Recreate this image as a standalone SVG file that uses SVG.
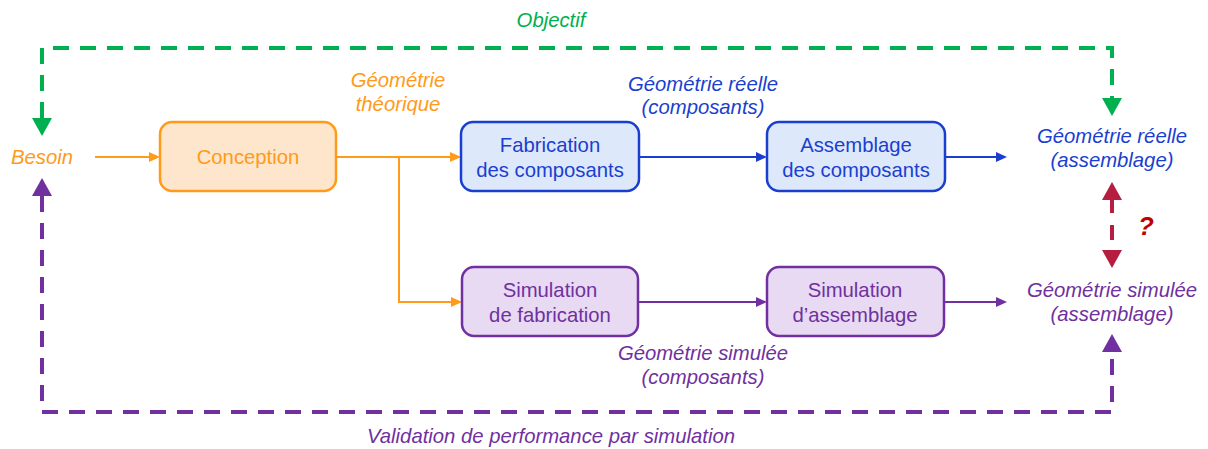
<svg xmlns="http://www.w3.org/2000/svg" width="1208" height="449" viewBox="0 0 1208 449">
<style>
text{font-family:"Liberation Sans",Arial,sans-serif;font-size:20.3px;text-anchor:middle}
.it{font-style:italic}
.or{fill:#FF9A1A}
.bl{fill:#1A3FD0}
.pu{fill:#7030A0}
.gr{fill:#00B050}
.box{stroke-width:2.5}
.c-or{fill:#FDE6CB;stroke:#FF9A1A}
.c-bl{fill:#DEE8FB;stroke:#1A3FD0}
.c-pu{fill:#E8DAF3;stroke:#7030A0}
.ln{fill:none;stroke-width:2}
.dash{fill:none;stroke-width:4;stroke-dasharray:16 11}
</style>
<defs>
<marker id="aOr" markerUnits="userSpaceOnUse" markerWidth="11" markerHeight="10" refX="0" refY="5" orient="auto"><path d="M0,0 L11,5 L0,10 z" fill="#FF9A1A"/></marker>
<marker id="aBl" markerUnits="userSpaceOnUse" markerWidth="11" markerHeight="10" refX="0" refY="5" orient="auto"><path d="M0,0 L11,5 L0,10 z" fill="#1A3FD0"/></marker>
<marker id="aPu" markerUnits="userSpaceOnUse" markerWidth="11" markerHeight="10" refX="0" refY="5" orient="auto"><path d="M0,0 L11,5 L0,10 z" fill="#7030A0"/></marker>
<marker id="bGr" markerUnits="userSpaceOnUse" markerWidth="18" markerHeight="20" refX="0" refY="10" orient="auto-start-reverse"><path d="M0,0 L18,10 L0,20 z" fill="#00B050"/></marker>
<marker id="bPu" markerUnits="userSpaceOnUse" markerWidth="18" markerHeight="20" refX="0" refY="10" orient="auto-start-reverse"><path d="M0,0 L18,10 L0,20 z" fill="#7030A0"/></marker>
<marker id="bRd" markerUnits="userSpaceOnUse" markerWidth="18" markerHeight="20" refX="0" refY="10" orient="auto-start-reverse"><path d="M0,0 L18,10 L0,20 z" fill="#B51E40"/></marker>
</defs>

<g id="connectors">
<path class="dash" stroke="#00B050" d="M42,118 V48 H1112 V98" marker-start="url(#bGr)" marker-end="url(#bGr)"/>
<path class="dash" stroke="#7030A0" d="M42,196 V412 H1112 V352" marker-start="url(#bPu)" marker-end="url(#bPu)"/>
<path fill="none" stroke="#B51E40" stroke-width="4" stroke-dasharray="13 12 15 10" d="M1112,200 V250" marker-start="url(#bRd)" marker-end="url(#bRd)"/>
<path class="ln" stroke="#FF9A1A" d="M95,157 H149" marker-end="url(#aOr)"/>
<path class="ln" stroke="#FF9A1A" d="M336,157 H450" marker-end="url(#aOr)"/>
<path class="ln" stroke="#FF9A1A" d="M399,157 V302 H451" marker-end="url(#aOr)"/>
<path class="ln" stroke="#1A3FD0" d="M639,157 H756" marker-end="url(#aBl)"/>
<path class="ln" stroke="#1A3FD0" d="M945,157 H996" marker-end="url(#aBl)"/>
<path class="ln" stroke="#7030A0" d="M638,302 H756" marker-end="url(#aPu)"/>
<path class="ln" stroke="#7030A0" d="M944,302 H996" marker-end="url(#aPu)"/>
</g>

<g id="labels">
<text class="it gr" x="551" y="27">Objectif</text>
<text class="it or" x="42" y="164">Besoin</text>
<text class="it or" x="398" y="87">Géométrie</text>
<text class="it or" x="398" y="111">théorique</text>
<text class="it bl" x="703" y="91">Géométrie réelle</text>
<text class="it bl" x="703" y="114">(composants)</text>
<text class="it bl" x="1112" y="143">Géométrie réelle</text>
<text class="it bl" x="1112" y="167">(assemblage)</text>
<text class="it" x="1146" y="235" style="fill:#C00000;font-weight:bold;font-size:26px">?</text>
<text class="it pu" x="1112" y="297">Géométrie simulée</text>
<text class="it pu" x="1112" y="321">(assemblage)</text>
<text class="it pu" x="703" y="360">Géométrie simulée</text>
<text class="it pu" x="703" y="384">(composants)</text>
<text class="it pu" x="551" y="443">Validation de performance par simulation</text>
</g>

<g id="conception">
<rect class="box c-or" x="160" y="122" width="176" height="69" rx="12"/>
<text class="or" x="248" y="164">Conception</text>
</g>
<g id="fabrication">
<rect class="box c-bl" x="461" y="122" width="178" height="69" rx="12"/>
<text class="bl" x="550" y="152">Fabrication</text>
<text class="bl" x="550" y="177">des composants</text>
</g>
<g id="assemblage">
<rect class="box c-bl" x="767" y="122" width="178" height="69" rx="12"/>
<text class="bl" x="856" y="152">Assemblage</text>
<text class="bl" x="856" y="177">des composants</text>
</g>
<g id="sim-fabrication">
<rect class="box c-pu" x="462" y="267" width="176" height="69" rx="12"/>
<text class="pu" x="550" y="297">Simulation</text>
<text class="pu" x="550" y="322">de fabrication</text>
</g>
<g id="sim-assemblage">
<rect class="box c-pu" x="767" y="267" width="177" height="69" rx="12"/>
<text class="pu" x="855" y="297">Simulation</text>
<text class="pu" x="855" y="322">d’assemblage</text>
</g>
</svg>
